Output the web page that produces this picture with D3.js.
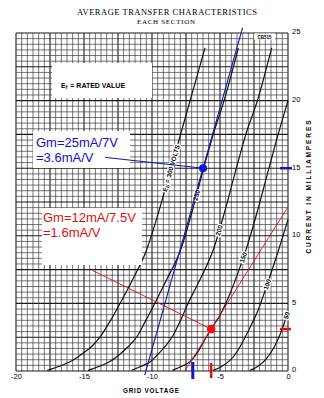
<!DOCTYPE html>
<html>
<head>
<meta charset="utf-8">
<script src="https://cdn.jsdelivr.net/npm/d3@7"></script>
<style>
  body { margin: 0; background: #fff; }
  svg { display: block; }
</style>
</head>
<body>
<div id="chart"></div>
<script>
// ---- data -------------------------------------------------------------
const gridVoltTicks = [-20, -15, -10, -5, 0];
const currentTicks = [0, 5, 10, 15, 20, 25];

// Plate-current curves [grid volts, mA], one per plate voltage
const plateVolts = [300, 250, 200, 150, 100, 50];
const curve300 = [[-17.7,0.05],[-16.8,0.35],[-16,0.7],[-15.1,1.3],[-14.4,1.85],[-13.8,2.55],[-13.1,3.65],[-12.35,5.0],[-11.4,6.8],[-10.4,8.95],[-9.5,11.8],[-8.6,15.0],[-7.9,17.5],[-7.2,20.0],[-6.1,23.9]];
const curve250 = [[-14.7,0.05],[-13.85,0.35],[-13.1,0.7],[-12.3,1.3],[-11.7,1.85],[-11.1,2.55],[-10.5,3.65],[-9.8,5.0],[-8.9,6.8],[-7.9,8.95],[-7.05,11.8],[-6.2,15.0],[-5.5,17.5],[-4.7,20.0],[-3.65,23.9]];
const curve200 = [[-11.5,0.05],[-10.8,0.35],[-10.1,0.7],[-9.5,1.3],[-9.0,1.85],[-8.5,2.55],[-7.95,3.65],[-7.35,5.0],[-6.45,6.8],[-5.5,8.95],[-4.65,11.8],[-3.8,15.0],[-3.1,17.5],[-2.25,20.0],[-1.2,23.9]];
const curve150 = [[-8.5,0.05],[-7.8,0.35],[-7.15,0.75],[-6.6,1.45],[-6.1,2.35],[-5.66,3.1],[-5.1,3.95],[-4.4,5.4],[-3.7,7.2],[-2.95,9.4],[-2.2,12.0],[-1.4,15.0],[-0.7,17.6],[0,20.0]];
const curve100 = [[-5.5,0.05],[-4.85,0.35],[-4.25,0.8],[-3.7,1.5],[-3.2,2.4],[-2.7,3.4],[-2.2,4.5],[-1.6,6.2],[-0.9,8.3],[0,11.2]];
const curve50  = [[-2.8,0.05],[-2.2,0.35],[-1.6,0.9],[-1.0,1.8],[-0.5,2.9],[0,4.4]];
const curves = [curve300, curve250, curve200, curve150, curve100, curve50];
// current (mA) at which each curve carries its label
const labelCurrent = [15.0, 13.0, 10.4, 8.4, 6.4, 4.1];

// Operating points and their tangents (transconductance)
const bluePoint = [-6.25, 15.0];
const blueSlope = 25 / 7;            // mA per volt
const blueSpan = [-0.3, 25.4];       // mA range of the tangent line
const blueLeaderFrom = [-13.45, 15.8];
const blueGridMark = -7.0;
const redPoint = [-5.65, 3.1];
const redSlope = 12 / 7.5;
const redSpan = [0, 12.15];
const redLeaderFrom = [-14.4, 7.45];
const redGridMark = -5.65;

// ---- layout -----------------------------------------------------------
const W = 324, H = 398;
const x = d3.scaleLinear().domain([-20, 0]).range([16, 288]);
const y = d3.scaleLinear().domain([0, 25]).range([371, 33]);

const svg = d3.select("#chart").append("svg")
  .attr("width", W).attr("height", H)
  .style("font-family", "'Liberation Sans', Arial, sans-serif");

// title
svg.append("text").attr("x", 167).attr("y", 15)
  .attr("text-anchor", "middle")
  .style("font-family", "'Liberation Serif', 'Times New Roman', serif")
  .style("font-size", "8.5px").attr("textLength", 180).attr("lengthAdjust", "spacing")
  .text("AVERAGE TRANSFER CHARACTERISTICS");
svg.append("text").attr("x", 166).attr("y", 23.5)
  .attr("text-anchor", "middle")
  .style("font-family", "'Liberation Serif', 'Times New Roman', serif")
  .style("font-size", "7px").attr("textLength", 58).attr("lengthAdjust", "spacing")
  .text("EACH SECTION");

// grid: 12 divisions per 5 units, heavier line every 6 divisions
const grid = svg.append("g");
const div = 5 / 12;
d3.range(0, 49).forEach(i => {
  const v = -20 + i * div;
  grid.append("line")
    .attr("x1", x(v)).attr("x2", x(v)).attr("y1", y(0)).attr("y2", y(25))
    .attr("stroke", i % 6 === 0 ? "#1a1a1a" : "#3c3c3c")
    .attr("stroke-width", i % 6 === 0 ? 1.1 : 0.7);
});
d3.range(0, 61).forEach(i => {
  const c = i * div;
  grid.append("line")
    .attr("x1", x(-20)).attr("x2", x(0)).attr("y1", y(c)).attr("y2", y(c))
    .attr("stroke", i % 6 === 0 ? "#1a1a1a" : "#3c3c3c")
    .attr("stroke-width", i % 6 === 0 ? 1.1 : 0.7);
});

// chart code box
svg.append("rect").attr("x", 254).attr("y", 33.5).attr("width", 21).attr("height", 6).attr("fill", "#fff");
svg.append("text").attr("x", 264.5).attr("y", 39).attr("text-anchor", "middle")
  .style("font-size", "4.5px").style("font-weight", "bold").text("CB515");

// heater note box
svg.append("rect").attr("x", 52).attr("y", 63).attr("width", 100).attr("height", 35).attr("fill", "#fff");
const ef = svg.append("text").attr("x", 61).attr("y", 88)
  .style("font-size", "7px").style("font-weight", "bold");
ef.append("tspan").text("E");
ef.append("tspan").attr("dy", 1.3).style("font-size", "5px").text("f");
ef.append("tspan").attr("dy", -1.3).attr("dx", 1).text(" = RATED  VALUE");

// axis labels
const xAxis = d3.axisBottom(x).tickValues(gridVoltTicks).tickSize(0).tickPadding(0)
  .tickFormat(d => d === 0 ? "0" : String(d));
const gx = svg.append("g").attr("transform", `translate(0,${y(0) + 3})`).call(xAxis);
gx.select(".domain").remove();
gx.selectAll("text").style("font-size", "7.5px").style("font-family", "'Liberation Sans', Arial, sans-serif").attr("fill", "#000");

const yAxis = d3.axisRight(y).tickValues(currentTicks).tickSize(0).tickPadding(0);
const gy = svg.append("g").attr("transform", `translate(${x(0) + 4},-1.5)`).call(yAxis);
gy.select(".domain").remove();
gy.selectAll("text").style("font-size", "7.5px").style("font-family", "'Liberation Sans', Arial, sans-serif").attr("fill", "#000");

svg.append("text").attr("x", 151).attr("y", 392.5).attr("text-anchor", "middle")
  .style("font-size", "6.3px").style("font-weight", "bold")
  .attr("textLength", 56).attr("lengthAdjust", "spacing").text("GRID  VOLTAGE");
svg.append("text").attr("transform", "translate(311,187) rotate(-90)")
  .attr("text-anchor", "middle").style("font-size", "6.5px").style("font-weight", "bold")
  .attr("textLength", 133).attr("lengthAdjust", "spacing").text("CURRENT  IN  MILLIAMPERES");

// characteristic curves
const line = d3.line().x(d => x(d[0])).y(d => y(d[1])).curve(d3.curveMonotoneX);
svg.append("g").selectAll("path").data(curves).join("path")
  .attr("d", line).attr("fill", "none").attr("stroke", "#111").attr("stroke-width", 1.2);

// curve labels, set along each curve
function pointAt(pts, mA) {
  for (let i = 0; i < pts.length - 1; i++) {
    const a = pts[i], b = pts[i + 1];
    if (mA >= a[1] && mA <= b[1]) {
      const t = (mA - a[1]) / (b[1] - a[1]);
      const v = a[0] + t * (b[0] - a[0]);
      const ang = Math.atan2(y(b[1]) - y(a[1]), x(b[0]) - x(a[0])) * 180 / Math.PI;
      return [x(v), y(mA), ang];
    }
  }
  const l = pts[pts.length - 1];
  return [x(l[0]), y(l[1]), -60];
}
const labels = svg.append("g");
curves.forEach((pts, i) => {
  const [px, py, ang] = pointAt(pts, labelCurrent[i]);
  const t = labels.append("text")
    .attr("transform", `translate(${px},${py}) rotate(${ang})`)
    .attr("text-anchor", "middle").attr("dy", "0.35em")
    .style("font-size", "6.5px").style("font-weight", "bold")
    .attr("stroke", "#fff").attr("stroke-width", 2.5).attr("paint-order", "stroke");
  if (i === 0) {
    t.append("tspan").text("E");
    t.append("tspan").attr("dy", 1.2).style("font-size", "4.8px").text("b");
    t.append("tspan").attr("dy", -1.2).text(" = 300  VOLTS");
  } else {
    t.text(plateVolts[i]);
  }
});

// tangent lines
function tangent(pt, slope, span) {
  return span.map(mA => [pt[0] + (mA - pt[1]) / slope, mA]);
}
const straight = d3.line().x(d => x(d[0])).y(d => y(d[1]));
svg.append("path").attr("d", straight(tangent(bluePoint, blueSlope, blueSpan)))
  .attr("stroke", "#1414b4").attr("stroke-width", 1.1).attr("fill", "none");
svg.append("path").attr("d", straight(tangent(redPoint, redSlope, redSpan)))
  .attr("stroke", "#e01010").attr("stroke-width", 0.9).attr("fill", "none");

// annotation boxes
svg.append("rect").attr("x", 33).attr("y", 131).attr("width", 97).attr("height", 37).attr("fill", "#fff");
svg.append("rect").attr("x", 42).attr("y", 208).attr("width", 100).attr("height", 57).attr("fill", "#fff");

const blueNote = svg.append("text").attr("fill", "#1010c8").style("font-size", "13px");
blueNote.append("tspan").attr("x", 36).attr("y", 147).text("Gm=25mA/7V");
blueNote.append("tspan").attr("x", 36).attr("y", 162).text("=3.6mA/V");
const redNote = svg.append("text").attr("fill", "#e01010").style("font-size", "13px");
redNote.append("tspan").attr("x", 43).attr("y", 222).text("Gm=12mA/7.5V");
redNote.append("tspan").attr("x", 43).attr("y", 237).text("=1.6mA/V");

// leader lines to the operating points
svg.append("path").attr("d", straight([blueLeaderFrom, bluePoint]))
  .attr("stroke", "#1414b4").attr("stroke-width", 1).attr("fill", "none");
svg.append("path").attr("d", straight([redLeaderFrom, redPoint]))
  .attr("stroke", "#e01010").attr("stroke-width", 0.9).attr("fill", "none");

// operating points
svg.append("circle").attr("cx", x(bluePoint[0])).attr("cy", y(bluePoint[1])).attr("r", 4).attr("fill", "#1414d0");
svg.append("circle").attr("cx", x(redPoint[0])).attr("cy", y(redPoint[1])).attr("r", 4.3).attr("fill", "#f01010");

// marks on the axes
svg.append("line").attr("x1", x(blueGridMark)).attr("x2", x(blueGridMark))
  .attr("y1", y(0) - 9).attr("y2", y(0) + 8).attr("stroke", "#1414d0").attr("stroke-width", 3);
svg.append("line").attr("x1", x(redGridMark)).attr("x2", x(redGridMark))
  .attr("y1", y(0) - 8).attr("y2", y(0) + 7).attr("stroke", "#e01010").attr("stroke-width", 2.5);
svg.append("line").attr("x1", x(0) - 8).attr("x2", x(0) + 4)
  .attr("y1", y(bluePoint[1])).attr("y2", y(bluePoint[1])).attr("stroke", "#1414d0").attr("stroke-width", 2.5);
svg.append("line").attr("x1", x(0) - 8).attr("x2", x(0) + 3)
  .attr("y1", y(redPoint[1])).attr("y2", y(redPoint[1])).attr("stroke", "#e01010").attr("stroke-width", 2.5);
</script>
</body>
</html>
